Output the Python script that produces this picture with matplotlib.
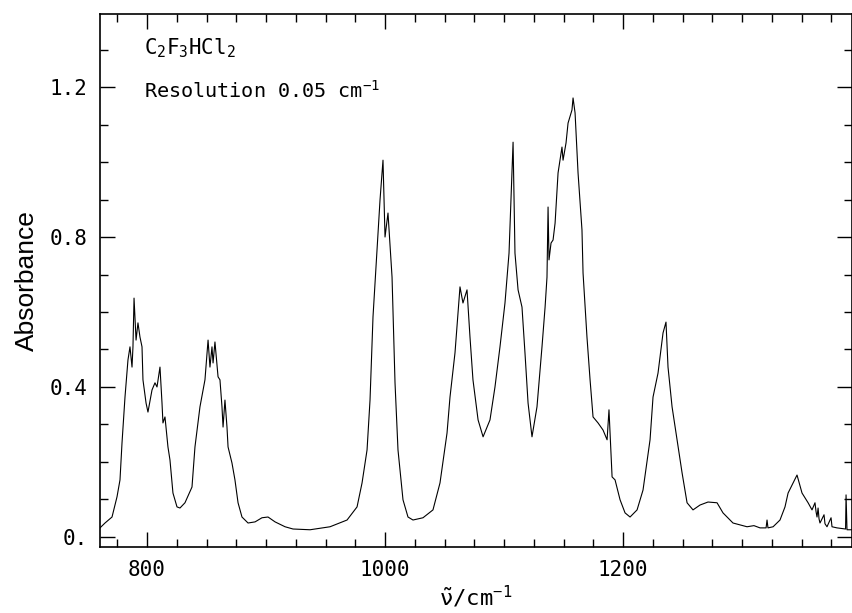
import matplotlib
matplotlib.use("Agg")
import matplotlib.pyplot as plt
from matplotlib.ticker import MultipleLocator, FixedLocator, FixedFormatter

# ---- data (wavenumber / cm^-1, absorbance) ----
wavenumber = [
    760.5, 764.7, 770.6, 774.8, 777.3, 779.0, 781.5, 784.0, 785.7, 787.4,
    788.2, 789.1, 790.8, 792.4, 794.1, 795.8, 796.6, 799.2, 800.8, 804.2,
    806.7, 808.4, 810.9, 812.6, 813.4, 815.1, 817.6, 819.3, 821.8, 825.2,
    827.7, 831.9, 837.8, 840.3, 844.5, 848.7, 851.3, 852.9, 854.6, 855.5,
    857.1, 859.7, 861.3, 863.0, 863.9, 865.5, 867.2, 868.1, 871.4, 873.9,
    876.5, 879.8, 884.9, 890.8, 896.6, 901.7, 907.6, 916.0, 922.7, 937.0,
    953.8, 968.1, 976.5, 980.7, 984.9, 987.4, 989.9, 993.3, 995.8, 998.3,
    1000.0, 1002.5, 1005.9, 1008.4, 1010.9, 1015.1, 1019.3, 1023.5, 1031.9, 1040.3,
    1046.2, 1052.1, 1054.6, 1058.8, 1063.0, 1065.5, 1068.9, 1071.4, 1073.9, 1078.2,
    1082.4, 1088.2, 1092.4, 1096.6, 1100.8, 1104.2, 1107.6, 1109.2, 1111.8, 1115.1,
    1117.6, 1120.2, 1123.5, 1127.7, 1131.9, 1134.5, 1136.1, 1137.0, 1137.8, 1139.5,
    1141.2, 1142.9, 1145.4, 1148.7, 1149.6, 1152.1, 1153.8, 1157.1, 1158.0, 1159.7,
    1162.2, 1165.5, 1166.4, 1169.7, 1172.3, 1174.8, 1179.0, 1183.2, 1186.6, 1188.2,
    1189.9, 1190.8, 1193.3, 1197.5, 1201.7, 1205.9, 1211.8, 1216.8, 1222.7, 1225.2,
    1229.4, 1233.6, 1236.1, 1237.8, 1241.2, 1245.4, 1249.6, 1253.8, 1258.8, 1264.7,
    1271.4, 1279.0, 1284.0, 1292.4, 1304.2, 1310.0, 1315.1, 1320.2, 1321.0, 1321.8,
    1326.1, 1331.9, 1336.1, 1338.7, 1342.9, 1346.2, 1350.4, 1355.5, 1358.8, 1361.3,
    1362.2, 1363.0, 1363.9, 1364.7, 1365.5, 1368.9, 1369.7, 1371.4, 1374.8, 1375.6,
    1379.8, 1387.0, 1387.4, 1388.2, 1392.0,
]
absorbance = [
    0.024, 0.037, 0.053, 0.107, 0.152, 0.251, 0.373, 0.472, 0.507, 0.453,
    0.507, 0.637, 0.525, 0.571, 0.533, 0.507, 0.419, 0.357, 0.333, 0.392,
    0.411, 0.400, 0.453, 0.357, 0.304, 0.320, 0.240, 0.205, 0.117, 0.080,
    0.077, 0.091, 0.133, 0.240, 0.347, 0.419, 0.525, 0.453, 0.507, 0.464,
    0.520, 0.427, 0.419, 0.347, 0.293, 0.365, 0.293, 0.240, 0.197, 0.152,
    0.091, 0.053, 0.037, 0.040, 0.051, 0.053, 0.040, 0.027, 0.021, 0.019,
    0.027, 0.045, 0.080, 0.144, 0.232, 0.365, 0.587, 0.765, 0.899, 1.005,
    0.800, 0.864, 0.693, 0.411, 0.232, 0.099, 0.053, 0.045, 0.051, 0.072,
    0.144, 0.277, 0.373, 0.491, 0.667, 0.624, 0.659, 0.533, 0.419, 0.312,
    0.267, 0.312, 0.400, 0.507, 0.624, 0.757, 1.053, 0.757, 0.659, 0.613,
    0.491, 0.357, 0.267, 0.347, 0.507, 0.613, 0.693, 0.880, 0.739, 0.784,
    0.792, 0.837, 0.971, 1.040, 1.005, 1.051, 1.104, 1.139, 1.171, 1.131,
    0.971, 0.819, 0.704, 0.533, 0.419, 0.320, 0.304, 0.285, 0.259, 0.339,
    0.224, 0.160, 0.152, 0.099, 0.064, 0.053, 0.072, 0.125, 0.259, 0.373,
    0.437, 0.544, 0.573, 0.453, 0.347, 0.259, 0.171, 0.091, 0.072, 0.085,
    0.093, 0.091, 0.064, 0.037, 0.027, 0.030, 0.024, 0.024, 0.045, 0.024,
    0.027, 0.045, 0.080, 0.117, 0.144, 0.165, 0.117, 0.091, 0.072, 0.091,
    0.067, 0.053, 0.077, 0.048, 0.037, 0.059, 0.035, 0.027, 0.051, 0.027,
    0.024, 0.021, 0.112, 0.019, 0.019,
]

x_major = [800, 1000, 1200]
x_major_labels = ["800", "1000", "1200"]
y_major = [0.0, 0.4, 0.8, 1.2]
y_major_labels = ["0.", "0.4", "0.8", "1.2"]

mono = "DejaVu Sans Mono"
plt.rcParams["mathtext.fontset"] = "custom"
plt.rcParams["mathtext.rm"] = mono
plt.rcParams["mathtext.it"] = mono
plt.rcParams["mathtext.bf"] = mono

W, H = 853, 613
fig = plt.figure(figsize=(W / 100, H / 100), dpi=100)
ax = fig.add_axes([100 / W, 1 - 547 / H, (852 - 100) / W, (547 - 14) / H])

ax.plot(wavenumber, absorbance, color="black", lw=0.8)

ax.set_xlim(760.5, 1392.4)
ax.set_ylim(-0.027, 1.395)

ax.xaxis.set_major_locator(FixedLocator(x_major))
ax.xaxis.set_major_formatter(FixedFormatter(x_major_labels))
ax.xaxis.set_minor_locator(MultipleLocator(25))
ax.yaxis.set_major_locator(FixedLocator(y_major))
ax.yaxis.set_major_formatter(FixedFormatter(y_major_labels))
ax.yaxis.set_minor_locator(MultipleLocator(0.1))

ax.tick_params(which="both", direction="in", top=True, right=True,
               color="black", width=1.0)
ax.tick_params(which="major", length=11)
ax.tick_params(which="minor", length=6)
ax.tick_params(axis="x", which="major", pad=9)
ax.tick_params(axis="y", which="major", pad=9)
for lab in ax.get_xticklabels() + ax.get_yticklabels():
    lab.set_fontfamily(mono)
    lab.set_fontsize(15)

for s in ax.spines.values():
    s.set_linewidth(1.2)

ax.set_ylabel("Absorbance", fontfamily="Liberation Sans", fontsize=19, labelpad=8)
ax.set_xlabel(r"$\tilde{\nu}$/cm$^{-1}$", fontfamily=mono, fontsize=16, labelpad=3)

ax.text(0.059, 0.935, r"C$_2$F$_3$HCl$_2$", transform=ax.transAxes,
        fontfamily=mono, fontsize=15, ha="left", va="center")
ax.text(0.059, 0.855, r"Resolution 0.05 cm$^{-1}$", transform=ax.transAxes,
        fontfamily=mono, fontsize=14.5, ha="left", va="center")

fig.savefig("out.png", dpi=100)
